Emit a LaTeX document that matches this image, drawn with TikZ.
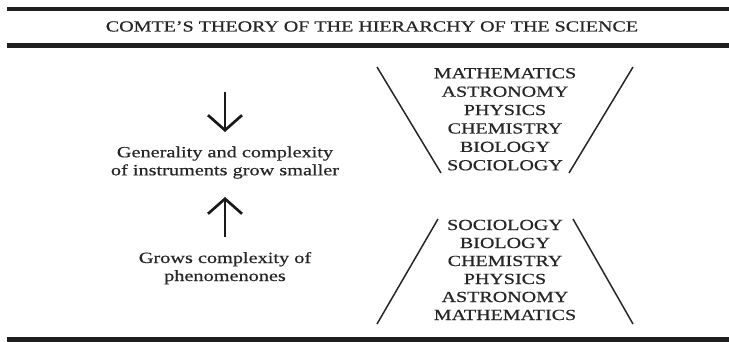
\documentclass[tikz,border=0pt]{standalone}
\usepackage{fontspec}
\setmainfont{Liberation Serif}[FakeStretch=1.3,FakeBold=0.6]
\usetikzlibrary{arrows.meta}
\tikzset{
  txt/.style={anchor=base, inner sep=0pt, text=black!85, font=\fontsize{15.4}{18}\selectfont},
  bodytxt/.style={txt, font=\fontsize{15.6}{18}\selectfont},
  barline/.style={fill=black!88},
  slant/.style={draw=black!85, line width=1.5pt},
  bigarrow/.style={draw=black!90, line width=2.7pt, -{Straight Barb[length=15pt,width=34pt,line width=2.7pt]}}
}
\begin{document}
\begin{tikzpicture}[x=1pt,y=-1pt]
\useasboundingbox (0,0) rectangle (729,342);
% bars
\fill[barline] (7,7.4) rectangle (729,10.8);
\fill[barline] (7,42.8) rectangle (729,48.3);
\fill[barline] (7,337.2) rectangle (729,341.7);
% title
\node[txt] (title) at (372,31.5) {COMTE'S THEORY OF THE HIERARCHY OF THE SCIENCE};
% left side
\coordinate (a1s) at (225,92);
\coordinate (a1e) at (225,132);
\draw[bigarrow] (a1s) -- (a1e);
\node[bodytxt] (g1) at (225,157.3) {Generality and complexity};
\node[bodytxt] (g2) at (225,175.3) {of instruments grow smaller};
\coordinate (a2s) at (225,237);
\coordinate (a2e) at (225,197);
\draw[bigarrow] (a2s) -- (a2e);
\node[bodytxt] (p1) at (225,263) {Grows complexity of};
\node[bodytxt] (p2) at (225,281) {phenomenones};
% upper trapezoid
\coordinate (ul1) at (377,67);
\coordinate (ul2) at (441,173);
\coordinate (ur1) at (633,67);
\coordinate (ur2) at (569,173);
\draw[slant] (ul1) -- (ul2);
\draw[slant] (ur1) -- (ur2);
\foreach \t [count=\i from 0] in {MATHEMATICS,ASTRONOMY,PHYSICS,CHEMISTRY,BIOLOGY,SOCIOLOGY}
  \node[txt] (u\i) at (505,78.3+18.4*\i) {\t};
% lower trapezoid
\coordinate (ll1) at (377,324);
\coordinate (ll2) at (438,219);
\coordinate (lr1) at (633,324);
\coordinate (lr2) at (573,219);
\draw[slant] (ll1) -- (ll2);
\draw[slant] (lr1) -- (lr2);
\foreach \t [count=\i from 0] in {SOCIOLOGY,BIOLOGY,CHEMISTRY,PHYSICS,ASTRONOMY,MATHEMATICS}
  \node[txt] (d\i) at (505,230+18*\i) {\t};
\end{tikzpicture}
\end{document}
